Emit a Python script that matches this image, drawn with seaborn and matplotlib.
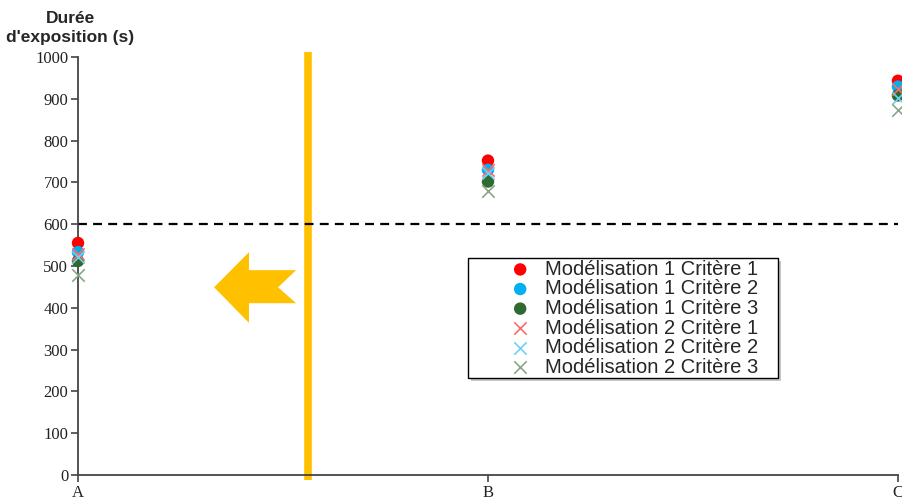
import matplotlib
matplotlib.use("Agg")
import matplotlib.pyplot as plt
import matplotlib.transforms as mtransforms
import seaborn as sns
import pandas as pd
from matplotlib.patches import Polygon, Rectangle

# données
categories = ["A", "B", "C"]
m1_c1 = [555, 752, 943]
m1_c2 = [533, 730, 929]
m1_c3 = [512, 702, 908]
m2_c1 = [528, 730, 924]
m2_c2 = [522, 722, 902]
m2_c3 = [478, 680, 872]
seuil = 600

series = [
    ("Modélisation 1 Critère 1", m1_c1, "o", "#FF0000"),
    ("Modélisation 1 Critère 2", m1_c2, "o", "#00B0F0"),
    ("Modélisation 1 Critère 3", m1_c3, "o", "#2E6A31"),
    ("Modélisation 2 Critère 1", m2_c1, "x", "#FF6B6B"),
    ("Modélisation 2 Critère 2", m2_c2, "x", "#6FD0F5"),
    ("Modélisation 2 Critère 3", m2_c3, "x", "#86A886"),
]

sns.set_style("ticks")
plt.rcParams["font.family"] = ["Liberation Sans", "DejaVu Sans"]

fig = plt.figure(figsize=(9.02, 5.04), dpi=100)
ax = fig.add_axes([0.0865, 0.0575, 0.909, 0.8295])

for name, vals, mk, col in series:
    df = pd.DataFrame({"x": range(len(categories)), "y": vals})
    if mk == "o":
        sns.scatterplot(data=df, x="x", y="y", marker="o", color=col, s=80,
                        edgecolor="none", ax=ax, label=name, clip_on=False, zorder=3)
    else:
        sns.scatterplot(data=df, x="x", y="y", marker="x", color=col, s=80,
                        linewidth=1.2, ax=ax, label=name, clip_on=False, zorder=4)

ax.axhline(seuil, color="black", ls=(0, (4, 2.8)), lw=1.6, zorder=2)

# trait vertical orange et flèche
ax.plot([0.56, 0.56], [-12, 1012], color="#FFC000", lw=5.5, clip_on=False,
        solid_capstyle="butt", zorder=1)
fleche = [(0.332, 449), (0.417, 533), (0.417, 490), (0.532, 490),
          (0.488, 449), (0.532, 411), (0.417, 411), (0.417, 364)]
ax.add_patch(Polygon(fleche, closed=True, color="#FFC000", lw=0, zorder=1))

ax.set_xlim(0, 2)
ax.set_ylim(0, 1000)
ax.set_xticks(range(len(categories)))
ax.set_xticklabels(categories)
ax.set_yticks(range(0, 1001, 100))
ax.set_xlabel("")
ax.set_ylabel("")
for lab in ax.get_xticklabels() + ax.get_yticklabels():
    lab.set_fontfamily("Liberation Serif")
    lab.set_fontsize(12)
    lab.set_color("#222222")
ax.tick_params(axis="both", length=5, width=1.2, color="#444444", pad=2)
sns.despine(ax=ax)
for sp in ["left", "bottom"]:
    ax.spines[sp].set_color("#444444")
    ax.spines[sp].set_linewidth(1.3)

fig.text(0.078, 0.978, "Durée\nd'exposition (s)", ha="center", va="top",
         fontsize=12.5, fontweight="bold", linespacing=1.35)

# cadre de la légende avec ombre
boite = (0.4756, 0.232)
decal = mtransforms.ScaledTranslation(3 / 100, -3 / 100, fig.dpi_scale_trans)
ombre = Rectangle(boite, 0.378, 0.287, transform=ax.transAxes + decal,
                  facecolor="#9a9a9a", edgecolor="none", alpha=0.55, zorder=4.9)
cadre = Rectangle(boite, 0.378, 0.287, transform=ax.transAxes,
                  facecolor="white", edgecolor="black", lw=1.0, zorder=5)
ax.add_patch(ombre)
ax.add_patch(cadre)

leg = ax.legend(loc="upper left", bbox_to_anchor=(0.527, 0.515), frameon=False,
                fontsize=14.5, borderpad=0, labelspacing=0.03, handletextpad=0.75,
                handlelength=1.0, borderaxespad=0)
leg.set_zorder(6)

fig.savefig("out.png", dpi=100)
